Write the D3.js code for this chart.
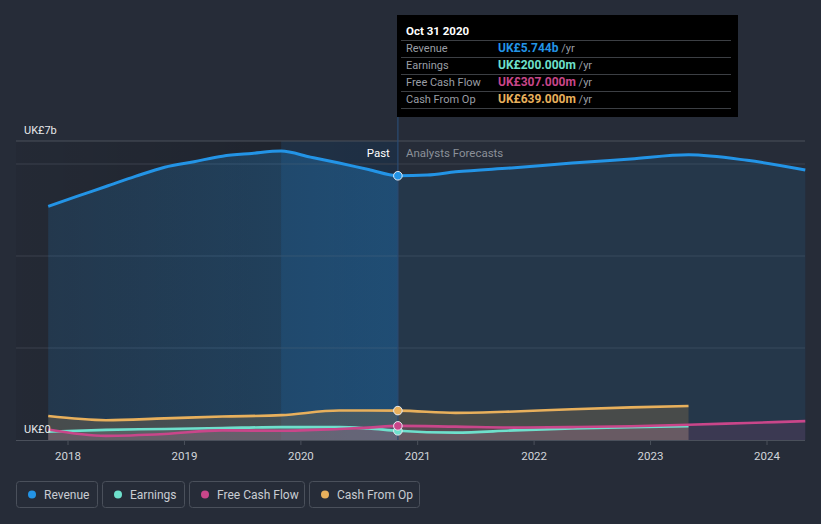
<!DOCTYPE html>
<html><head><meta charset="utf-8">
<script src="https://cdn.jsdelivr.net/npm/d3@7"></script>
<style>body{margin:0;background:#262c38;}svg{display:block;font-family:Roboto,"Open Sans",sans-serif;}</style>
</head><body><svg id="c" width="821" height="524"></svg>
<script>
// ---- data (UK£ billions) ----
const revenuePastDates = ["2017-10-31","2018-01-31","2018-04-30","2018-07-31","2018-10-31","2019-01-31","2019-04-30","2019-07-31","2019-10-31","2020-01-31","2020-04-30","2020-07-31","2020-10-31"];
const revenuePast = [5.08,5.30,5.51,5.73,5.93,6.05,6.17,6.23,6.28,6.15,6.02,5.88,5.744];
const revenueFcDates = ["2020-10-31","2021-01-31","2021-04-30","2021-10-31","2022-04-30","2022-10-31","2023-04-30","2023-10-31","2024-04-30"];
const revenueFc = [5.744,5.76,5.83,5.92,6.02,6.11,6.20,6.08,5.87];

const lowPastDates = ["2017-10-31","2018-04-30","2018-10-31","2019-04-30","2019-10-31","2020-04-30","2020-07-31","2020-10-31"];
const earningsPast = [0.18,0.22,0.24,0.26,0.28,0.28,0.25,0.20];
const fcfPast = [0.23,0.09,0.13,0.21,0.20,0.24,0.27,0.307];
const cfoPast = [0.52,0.43,0.47,0.51,0.54,0.64,0.64,0.639];

const lowFcDates = ["2020-10-31","2021-04-30","2021-10-31","2022-04-30","2022-10-31","2023-04-30"];
const earningsFc = [0.20,0.16,0.21,0.25,0.28,0.30];
const cfoFc = [0.639,0.59,0.62,0.67,0.71,0.74];
const fcfFcDates = ["2020-10-31","2021-04-30","2021-10-31","2022-04-30","2022-10-31","2023-04-30","2023-10-31","2024-04-30"];
const fcfFc = [0.307,0.29,0.27,0.28,0.30,0.33,0.37,0.41];

const xTicks = [2018,2019,2020,2021,2022,2023,2024];
const yLabels = ["UK£7b","UK£0"];
const seriesNames = ["Revenue","Earnings","Free Cash Flow","Cash From Op"];
const seriesColors = ["#2394e6","#6ee0cc","#c9468a","#e8b05c"];
const tipDate = "Oct 31 2020";
const tipValues = ["UK£5.744b","UK£200.000m","UK£307.000m","UK£639.000m"];
const nowDate = "2020-10-31";

// ---- scales ----
const P = d3.timeParse("%Y-%m-%d");
const x = d3.scaleTime().domain([new Date(2018,0,1), new Date(2024,0,1)]).range([68,767]);
const y = d3.scaleLinear().domain([0,6]).range([440,164]);
const L = 16, R = 805, T = 141, B = 440;
const xNow = x(P(nowDate));

const svg = d3.select("#c");
const defs = svg.append("defs");
const gPast = defs.append("linearGradient").attr("id","pastShade");
gPast.append("stop").attr("offset","0%").attr("stop-color","#000").attr("stop-opacity",0.06);
gPast.append("stop").attr("offset","100%").attr("stop-color","#000").attr("stop-opacity",0.22);
const gRev = defs.append("linearGradient").attr("id","revPast");
gRev.append("stop").attr("offset","0%").attr("stop-color","#2394e6").attr("stop-opacity",0.14);
gRev.append("stop").attr("offset","100%").attr("stop-color","#2394e6").attr("stop-opacity",0.3);

svg.append("rect").attr("width",821).attr("height",524).attr("fill","#262c38");
svg.append("rect").attr("x",L).attr("y",T).attr("width",xNow-L).attr("height",B-T).attr("fill","url(#pastShade)");
const xBand = x(P("2019-10-31"));
svg.append("rect").attr("x",xBand).attr("y",T).attr("width",xNow-xBand).attr("height",B-T).attr("fill","#2180e0").attr("opacity",0.13);

[2,4,6].forEach(v=>svg.append("line").attr("x1",L).attr("x2",R).attr("y1",y(v)).attr("y2",y(v)).attr("stroke","#3a414d").attr("stroke-width",1));
svg.append("line").attr("x1",L).attr("x2",R).attr("y1",T).attr("y2",T).attr("stroke","#4a505b").attr("stroke-width",1);

const mk = (dates, vals) => dates.map((d,i)=>({d:P(d), v:vals[i]}));
const revP = mk(revenuePastDates, revenuePast), revF = mk(revenueFcDates, revenueFc);
const earnP = mk(lowPastDates, earningsPast), earnF = mk(lowFcDates, earningsFc);
const fcfP = mk(lowPastDates, fcfPast), fcfF = mk(fcfFcDates, fcfFc);
const cfoP = mk(lowPastDates, cfoPast), cfoF = mk(lowFcDates, cfoFc);

const curve = d3.curveMonotoneX;
const area = d3.area().x(p=>x(p.d)).y0(y(0)).y1(p=>y(p.v)).curve(curve);
const line = d3.line().x(p=>x(p.d)).y(p=>y(p.v)).curve(curve);

svg.append("path").attr("d",area(revP)).attr("fill","url(#revPast)");
svg.append("path").attr("d",area(revF)).attr("fill","#2394e6").attr("opacity",0.11);

const areaSpec = [
  [cfoP.concat(cfoF.slice(1)), "#9a7a4c", 0.3],
  [earnP.concat(earnF.slice(1)), "#b4c4c8", 0.16],
  [fcfP.concat(fcfF.slice(1)), "#c9468a", 0.14]
];
areaSpec.forEach(([dat,c,o])=>svg.append("path").attr("d",area(dat)).attr("fill",c).attr("opacity",o));

const lines = [
  [revP, revF, seriesColors[0], 3],
  [cfoP, cfoF, seriesColors[3], 2.6],
  [earnP, earnF, seriesColors[1], 2.6],
  [fcfP, fcfF, seriesColors[2], 2.6]
];
lines.forEach(([p,f,c,w])=>{
  svg.append("path").attr("d",line(p.concat(f.slice(1)))).attr("fill","none").attr("stroke",c).attr("stroke-width",w).attr("stroke-linejoin","round");
});

svg.append("line").attr("x1",L).attr("x2",R).attr("y1",B+0.5).attr("y2",B+0.5).attr("stroke","#4a505b");
const xa = svg.append("g");
xTicks.forEach(t=>{
  const xx = x(new Date(t,0,1));
  xa.append("line").attr("x1",xx).attr("x2",xx).attr("y1",B+1).attr("y2",B+5).attr("stroke","#4a505b");
  xa.append("text").attr("x",xx).attr("y",460).attr("text-anchor","middle").attr("fill","#d2d5da").attr("font-size",11.5).text(t);
});

svg.append("line").attr("x1",xNow).attr("x2",xNow).attr("y1",117).attr("y2",B).attr("stroke","#2a4c74").attr("stroke-width",1.2);

svg.append("text").attr("x",24).attr("y",134).attr("fill","#e6e8ea").attr("font-size",11).text(yLabels[0]);
svg.append("text").attr("x",24).attr("y",433).attr("fill","#e6e8ea").attr("font-size",11).text(yLabels[1]);

svg.append("text").attr("x",xNow-8).attr("y",157).attr("text-anchor","end").attr("fill","#ffffff").attr("font-size",11.5).text("Past");
svg.append("text").attr("x",xNow+8).attr("y",157).attr("fill","#8b9099").attr("font-size",11.5).text("Analysts Forecasts");

[[earningsPast.at(-1),seriesColors[1]],[fcfPast.at(-1),seriesColors[2]],[cfoPast.at(-1),seriesColors[3]],[revenuePast.at(-1),seriesColors[0]]].forEach(([v,c])=>{
  svg.append("circle").attr("cx",xNow).attr("cy",y(v)).attr("r",4.3).attr("fill",c).attr("stroke","#e8eef5").attr("stroke-width",1);
});

const tip = svg.append("g");
tip.append("rect").attr("x",397).attr("y",15).attr("width",341).attr("height",102).attr("fill","#000");
tip.append("text").attr("x",406).attr("y",35).attr("fill","#fff").attr("font-size",11.5).attr("font-weight","bold").text(tipDate);
const rowY = [40,57,74,91];
seriesNames.forEach((n,i)=>{
  tip.append("line").attr("x1",401).attr("x2",731).attr("y1",rowY[i]+0.5).attr("y2",rowY[i]+0.5).attr("stroke","#3c3f44");
  tip.append("text").attr("x",406).attr("y",rowY[i]+12).attr("fill","#9a9ea5").attr("font-size",11).text(n);
  const t = tip.append("text").attr("x",498).attr("y",rowY[i]+12).attr("font-size",12);
  t.append("tspan").attr("fill",seriesColors[i]).attr("font-weight","bold").text(tipValues[i]);
  t.append("tspan").attr("fill","#9a9ea5").attr("font-size",11).text(" /yr");
});
tip.append("line").attr("x1",401).attr("x2",731).attr("y1",108.5).attr("y2",108.5).attr("stroke","#3c3f44");

const legX = [16,102,189,309], legW = [82,83,116,111];
seriesNames.forEach((n,i)=>{
  const g = svg.append("g");
  g.append("rect").attr("x",legX[i]+0.5).attr("y",481.5).attr("width",legW[i]-1).attr("height",26).attr("rx",3).attr("fill","none").attr("stroke","#4a505b");
  g.append("circle").attr("cx",legX[i]+16).attr("cy",494.5).attr("r",4).attr("fill",seriesColors[i]);
  g.append("text").attr("x",legX[i]+28).attr("y",498.5).attr("fill","#c9cdd3").attr("font-size",12).text(n);
});
</script></body></html>
